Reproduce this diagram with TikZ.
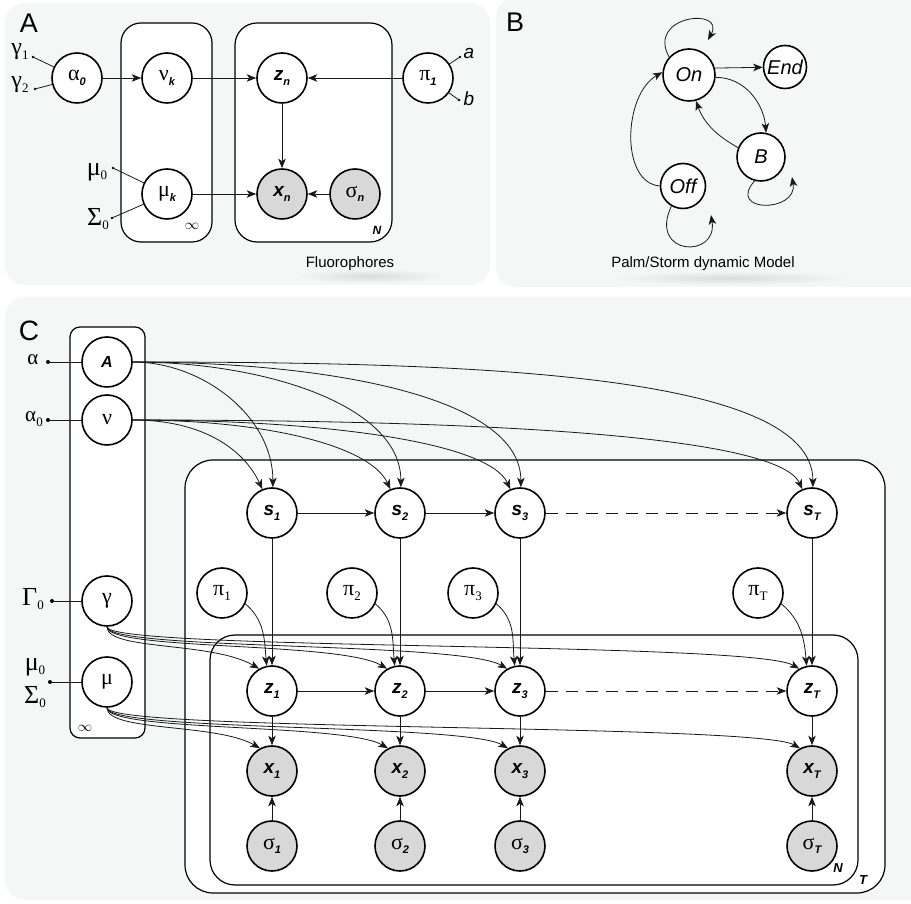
\documentclass[tikz,border=0pt]{standalone}
\usepackage{fontspec}
\setmainfont{Liberation Sans}
\newfontfamily\gk{Liberation Serif}
\usetikzlibrary{arrows.meta}
\definecolor{panelbg}{RGB}{245,247,247}
\definecolor{obsgray}{RGB}{216,216,216}
\newcommand\fs[1]{\fontsize{#1}{#1}\selectfont}
\newcommand\bsub[1]{\raisebox{-4.5pt}{\rmfamily\fs{11}\bfseries\itshape #1}}
\newcommand\ssub[1]{\raisebox{-4.5pt}{\fs{13}\gk #1}}
\newcommand\gl[1]{{\gk\fs{22}#1}}
\newcommand\bl[1]{{\fs{19}\bfseries\itshape #1}}
\tikzset{
  rv/.style={circle, draw, line width=1.6pt, fill=white, minimum size=50pt, inner sep=0pt},
  obs/.style={rv, fill=obsgray},
  edge/.style={draw=black!90, line width=0.8pt, -{Stealth[length=9.5pt,width=7.5pt,inset=2.5pt]}},
  thin line/.style={draw=black!90, line width=0.8pt},
  plate/.style={draw, line width=1.2pt, fill=white},
  panel/.style={fill=panelbg, rounded corners=20pt},
  dashedge/.style={edge, dash pattern=on 12pt off 8pt},
}
\begin{document}
\begin{tikzpicture}[x=1pt,y=1pt]
\useasboundingbox (0,0) rectangle (911,903);
% panels
\fill[panel] (5,618) rectangle (490,900);
\fill[panel] (496,616) rectangle (935,906);
\fill[panel] (5,3) rectangle (935,606);
\shade[inner color=black!14, outer color=panelbg] (370,627) ellipse (75pt and 7pt);
\shade[inner color=black!14, outer color=panelbg] (730,625) ellipse (120pt and 7pt);

%%%%%%%%%%%%%%%% Panel A
\node[font=\fs{27}, inner sep=0pt] (labA) at (29,880) {A};
\draw[plate, rounded corners=20pt] (121,661) rectangle (212,880);
\draw[plate, rounded corners=22pt] (235,661) rectangle (392,880);
\node[inner sep=0pt] (infA) at (192,677) {\fs{14}$\infty$};
\node[font=\fs{12}\bfseries\itshape, inner sep=0pt] (NA) at (377,673) {N};
\node[font=\fs{15}, inner sep=0pt] (capA) at (350,639) {Fluorophores};

\node[rv] (a0) at (77,825) {\gl{α}\bsub{0}};
\node[rv] (nuk) at (167,825) {\gl{ν}\bsub{k}};
\node[rv] (muk) at (167,709) {\gl{μ}\bsub{k}};
\node[rv] (zn) at (282,825) {\bl{z}\bsub{n}};
\node[obs] (xn) at (282,709) {\bl{x}\bsub{n}};
\node[obs] (sgn) at (355,709) {\gl{σ}\bsub{n}};
\node[rv] (pia) at (428,825) {\gl{π}\bsub{1}};

\coordinate (dg1) at (33,846);
\coordinate (dg2) at (35,814);
\coordinate (dm0) at (113,735);
\coordinate (ds0) at (112,685);
\coordinate (da) at (460,846);
\coordinate (db) at (459,803);
\node[inner sep=0pt] (tg1) at (20,851) {{\gk\fs{24}γ}\ssub{1}};
\node[inner sep=0pt] (tg2) at (20,818) {{\gk\fs{24}γ}\ssub{2}};
\node[inner sep=0pt] (tm0) at (97,731) {{\gk\fs{26}μ}\ssub{0}};
\node[inner sep=0pt] (ts0) at (98,684) {{\gk\fs{26}Σ}\ssub{0}};
\node[inner sep=0pt, font=\fs{19}\itshape] (ta) at (469,850) {a};
\node[inner sep=0pt, font=\fs{19}\itshape] (tb) at (469,804) {b};
\foreach \d in {dg1,dg2,dm0,ds0,da,db} \fill (\d) circle (1.3pt);
\draw[thin line] (dg1) -- (a0);
\draw[thin line] (dg2) -- (a0);
\draw[thin line] (dm0) -- (muk);
\draw[thin line] (ds0) -- (muk);
\draw[thin line] (da) -- (pia);
\draw[thin line] (db) -- (pia);

\draw[edge] (a0) -- (nuk);
\draw[edge] (nuk) -- (zn);
\draw[edge] (pia) -- (zn);
\draw[edge] (zn) -- (xn);
\draw[edge] (muk) -- (xn);
\draw[edge] (sgn) -- (xn);

%%%%%%%%%%%%%%%% Panel B
\node[font=\fs{27}, inner sep=0pt] (labB) at (515,881) {B};
\node[rv, minimum size=52pt, font=\fs{20}\itshape] (On) at (689,828) {On};
\node[rv, minimum size=43pt, font=\fs{20}\itshape] (End) at (785,836) {End};
\node[rv, minimum size=48pt, font=\fs{20}\itshape] (Bn) at (761,746) {B};
\node[rv, minimum size=45pt, font=\fs{20}\itshape] (Off) at (683,717) {Off};
\node[font=\fs{15}, inner sep=0pt] (capB) at (703,639) {Palm/Storm dynamic Model};
\coordinate (onl) at (708,863);
\coordinate (offl) at (711,688);
\coordinate (bl) at (792,726);
\draw[edge] (On.138) .. controls (646,888) and (726,896) .. (onl);
\draw[edge] (Off.240) .. controls (648,647) and (718,644) .. (offl);
\draw[edge] (Bn.255) .. controls (726,690) and (798,690) .. (bl);
\draw[edge] (On.15) -- (End);
\draw[edge] (On.-5) to[out=0,in=95] (Bn.78);
\draw[edge] (Bn.158) to[out=150,in=-70] (On.-75);
\draw[edge] (Off.180) to[out=175,in=210,out distance=40pt,in distance=45pt] (On.174);

%%%%%%%%%%%%%%%% Panel C
\node[font=\fs{28}, inner sep=0pt] (labC) at (29,572) {C};
\draw[plate, rounded corners=10pt] (70,165) rectangle (145,576);
\draw[plate, rounded corners=28pt] (185,10) rectangle (885,443);
\draw[plate, rounded corners=25pt] (210,18) rectangle (858,268);
\node[inner sep=0pt] (infC) at (85,175) {\fs{14}$\infty$};
\node[font=\fs{13}\bfseries\itshape, inner sep=0pt] (NC) at (838,35) {N};
\node[font=\fs{13}\bfseries\itshape, inner sep=0pt] (TC) at (863,23) {T};

\node[rv] (A) at (107,541) {\fs{16}\bfseries\itshape A};
\node[rv] (nu) at (107,483) {\gl{ν}};
\node[rv] (gam) at (107,302) {\gl{γ}};
\node[rv] (mu) at (107,221) {\gl{μ}};

\coordinate (dal) at (48,541);
\coordinate (da0) at (48,483);
\coordinate (dG) at (52,302);
\coordinate (dmu) at (50,221);
\node[inner sep=0pt] (tal) at (33,543) {{\gk\fs{21}α}};
\node[inner sep=0pt] (ta0) at (34,484) {{\gk\fs{21}α}\ssub{0}};
\node[inner sep=0pt] (tG) at (33,304) {{\gk\fs{26}Γ}\ssub{0}};
\node[inner sep=0pt] (tmu) at (35,236) {{\gk\fs{26}μ}\ssub{0}};
\node[inner sep=0pt] (tSig) at (35,206) {{\gk\fs{26}Σ}\ssub{0}};
\foreach \d in {dal,da0,dG,dmu} \fill (\d) circle (2pt);
\draw[thin line] (dal) -- (A);
\draw[thin line] (da0) -- (nu);
\draw[thin line] (dG) -- (gam);
\draw[thin line] (dmu) -- (mu);

\foreach \i/\x in {1/272,2/400,3/520,T/812} {
  \node[rv] (s\i) at (\x,390) {\bl{s}\bsub{\i}};
  \node[rv] (z\i) at (\x,212) {\bl{z}\bsub{\i}};
  \node[obs] (x\i) at (\x,132) {\bl{x}\bsub{\i}};
  \node[obs] (g\i) at (\x,57) {\gl{σ}\bsub{\i}};
}
\foreach \i/\x in {1/222,2/352,3/473,T/758}
  \node[rv] (p\i) at (\x,310) {\gl{π}\ssub{\i}};

\foreach \i/\x in {1/272,2/400,3/520,T/812} {
  \pgfmathsetmacro\od{0.5*(\x-133)}
  \pgfmathsetmacro\ida{60+0.08*(\x-133)}
  \pgfmathsetmacro\idn{40+0.03*(\x-133)}
  \draw[edge] (A.east) to[out=0,in=90,out distance=\od pt,in distance=\ida pt] (s\i.88);
  \draw[edge] (nu.east) to[out=0,in=115,out distance=\od pt,in distance=\idn pt] (s\i.112);
  \draw[edge] (gam.south) to[out=-90,in=150,out distance=24pt,in distance=55pt] (z\i.120);
  \draw[edge] (mu.south) to[out=-90,in=150,out distance=24pt,in distance=50pt] (x\i.118);
  \draw[edge] (p\i.-25) to[out=-40,in=95] (z\i.102);
  \draw[edge] (s\i) -- (z\i);
  \draw[edge] (z\i) -- (x\i);
  \draw[edge] (g\i) -- (x\i);
}
\draw[edge] (s1) -- (s2);
\draw[edge] (s2) -- (s3);
\draw[dashedge] (s3) -- (sT);
\draw[edge] (z1) -- (z2);
\draw[edge] (z2) -- (z3);
\draw[dashedge] (z3) -- (zT);
\end{tikzpicture}
\end{document}
